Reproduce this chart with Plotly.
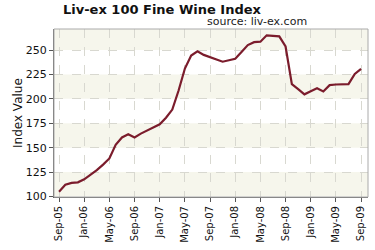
import plotly.graph_objects as go

months = ["Sep-05","Oct-05","Nov-05","Dec-05","Jan-06","Feb-06","Mar-06","Apr-06","May-06","Jun-06","Jul-06","Aug-06",
          "Sep-06","Oct-06","Nov-06","Dec-06","Jan-07","Feb-07","Mar-07","Apr-07","May-07","Jun-07","Jul-07","Aug-07",
          "Sep-07","Oct-07","Nov-07","Dec-07","Jan-08","Feb-08","Mar-08","Apr-08","May-08","Jun-08","Jul-08","Aug-08",
          "Sep-08","Oct-08","Nov-08","Dec-08","Jan-09","Feb-09","Mar-09","Apr-09","May-09","Jun-09","Jul-09","Aug-09","Sep-09"]
values = [105, 112, 114, 114.5, 117.6, 122, 127, 132.7, 139, 153, 160.5, 163.7,
          160.5, 164.4, 167.6, 171.5, 174, 180.7, 189, 208.5, 231, 244.4, 248.7, 245,
          242.8, 240.5, 238, 239.5, 241, 248, 255, 258, 258.5, 265, 264.5, 264,
          253.6, 215, 210, 204.6, 207.8, 210.8, 207.5, 214, 214.7, 214.7, 215, 225.5, 230.7]
y_ticks = [100, 125, 150, 175, 200, 225, 250]
band_edges = [100, 125, 150, 175, 200, 225, 250, 275]

idx = list(range(len(months)))
tick_idx = idx[::4]
tick_txt = [months[i] for i in tick_idx]

fig = go.Figure()
fig.add_trace(go.Scatter(x=idx, y=values, mode="lines",
                         line=dict(color="#7b1c2c", width=2.2), hoverinfo="skip"))

shapes = []
for i in range(0, len(band_edges) - 1, 2):
    shapes.append(dict(type="rect", xref="paper", yref="y", x0=0, x1=1,
                       y0=band_edges[i], y1=band_edges[i + 1],
                       fillcolor="#f6f6ec", line=dict(width=0), layer="below"))

fig.update_layout(
    width=375, height=250,
    margin=dict(l=54, r=7, t=29, b=46),
    paper_bgcolor="white", plot_bgcolor="white",
    showlegend=False,
    shapes=shapes,
    font=dict(family="DejaVu Sans", color="#111"),
    annotations=[
        dict(text="<b>Liv-ex 100 Fine Wine Index</b>", xref="paper", yref="paper",
             x=(162 - 54) / 314, y=1, xanchor="center", yanchor="bottom",
             font=dict(size=13, family="DejaVu Sans", color="#111"), showarrow=False,
             yshift=10),
        dict(text="source: liv-ex.com", x=(257 - 54) / 314, xref="paper", y=1, yref="paper",
             xanchor="center", yanchor="bottom", font=dict(size=11, color="#222"),
             showarrow=False, yshift=-1),
        dict(text="Index Value", textangle=-90, xref="paper", yref="paper",
             x=(18 - 54) / 314, y=0.5, xanchor="center", yanchor="middle",
             font=dict(size=12, color="#111"), showarrow=False),
    ],
)
fig.update_xaxes(range=[-0.8, 49.1], tickvals=tick_idx, ticktext=tick_txt, tickangle=-90,
                 tickfont=dict(size=10), showgrid=True, gridcolor="#d8d8d0", griddash="dash",
                 gridwidth=1, ticks="outside", ticklen=4, tickcolor="#555",
                 showline=True, linecolor="#666", linewidth=1, mirror=False, zeroline=False)
fig.update_yaxes(range=[99.5, 271.5], tickvals=y_ticks, tickfont=dict(size=11),
                 showgrid=True, gridcolor="#d8d8d0", griddash="dash", gridwidth=1,
                 ticks="outside", ticklen=4, tickcolor="#555",
                 showline=True, linecolor="#666", linewidth=1, zeroline=False)
fig.add_shape(type="rect", xref="paper", yref="paper", x0=0, x1=1, y0=0, y1=1,
              line=dict(color="#aaa", width=1), layer="above")

fig.write_html("out.html")
